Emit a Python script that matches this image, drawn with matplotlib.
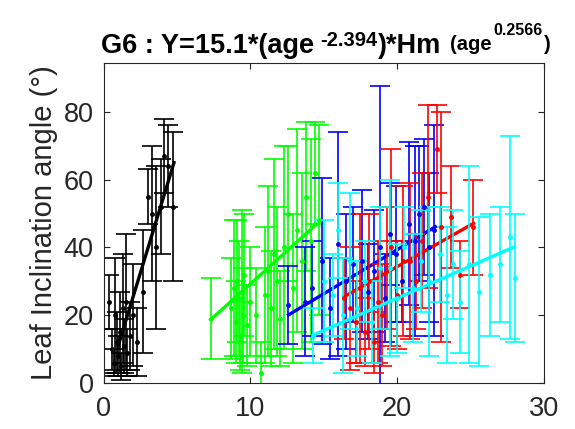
import matplotlib
matplotlib.use('Agg')
import matplotlib.pyplot as plt
import numpy as np

plt.rcParams['font.family'] = ['Liberation Sans', 'DejaVu Sans']

# black group (youngest)
black_x = [0.4, 0.6, 0.7, 0.8, 0.9, 1.0, 1.1, 1.2, 1.3, 1.4, 1.5, 1.6, 1.8, 2.0, 2.3, 2.7,
           3.0, 3.3, 3.6, 3.9, 4.1, 4.4, 4.7]
black_mean = [24, 10, 6, 20, 12, 8, 15, 5, 22, 11, 24, 9, 14, 20, 12, 27,
              55, 50, 40, 52, 67, 64, 52]
black_sd = [8, 6, 4, 17, 9, 6, 12, 4, 16, 8, 20, 7, 10, 15, 10, 18,
            8, 20, 24, 14, 11, 12, 22]
black_fit_x = [1.0, 4.8]
black_fit_y = [11, 65]

# green group
green_x = [7.3, 8.7, 8.9, 9.0, 9.1, 9.2, 9.3, 9.4, 9.5, 9.6, 9.8, 10.0, 10.4, 10.7, 11.0,
           11.2, 11.4, 11.6, 11.8, 12.0, 12.3, 12.6, 12.9, 13.2, 13.5, 13.8, 14.1, 14.4, 14.7]
green_mean = [19, 22, 28, 18, 30, 25, 14, 27, 20, 32, 17, 24, 20, 3, 26,
              33, 22, 38, 30, 19, 40, 50, 28, 45, 36, 55, 42, 62, 48]
green_sd = [12, 15, 20, 12, 18, 17, 10, 24, 14, 18, 12, 16, 14, 9, 20,
            25, 17, 28, 22, 14, 30, 20, 22, 30, 26, 22, 30, 15, 28]
green_fit_x = [7.3, 14.5]
green_fit_y = [18.7, 46.8]

# blue group
blue_x = [12.6, 13.7, 14.2, 14.9, 15.4, 16.0, 16.5, 17.0, 17.6, 18.0, 18.4, 18.8, 19.2,
          19.5, 19.9, 20.3, 20.8, 21.2, 21.5, 21.8, 22.2, 22.5]
blue_mean = [23, 24, 28, 36, 22, 41, 30, 35, 36, 27, 33, 40, 25,
             44, 38, 30, 47, 42, 50, 52, 40, 45]
blue_sd = [11.5, 16, 14, 24.5, 15, 33, 20, 17, 21, 14, 18, 47.5, 13,
           15, 20, 12, 24, 28, 20, 20, 22, 31]
blue_fit_x = [12.6, 22.6]
blue_fit_y = [20.1, 46.1]

# red group
red_x = [16.4, 16.8, 17.2, 17.5, 17.8, 18.1, 18.4, 18.7, 19.0, 19.3, 19.6, 20.0, 20.4,
         20.9, 21.3, 21.7, 22.1, 22.7, 23.0, 23.7, 24.3, 25.2]
red_mean = [25, 22, 18, 28, 15, 30, 12, 24, 20, 34, 40, 26, 36,
            36, 30, 42, 55, 69, 46, 49, 32, 46]
red_sd = [12, 18, 12, 22, 10, 20, 9, 18, 15, 18, 29, 16, 22,
          23, 14, 20, 27, 13, 34, 15, 10, 14]
red_fit_x = [16.4, 25.2]
red_fit_y = [25.5, 47.1]

# cyan group (oldest)
cyan_x = [14.3, 15.0, 15.6, 16.0, 16.3, 16.8, 17.3, 17.8, 18.3, 18.8, 19.5, 20.0, 20.5,
          21.1, 21.6, 22.2, 22.9, 23.4, 23.8, 24.3, 24.9, 25.6, 26.3, 27.0, 27.7, 28.0]
cyan_mean = [14, 30, 26, 45, 20, 36, 22, 30, 18, 34, 34, 25, 40,
             28, 36, 30, 38, 26, 35, 24, 35, 27, 32, 35, 43, 31]
cyan_sd = [8, 18, 12, 14, 17, 20, 14, 12, 12, 18, 26, 16, 12,
           16, 15, 22, 14, 20, 16, 15, 29, 22, 18, 17, 30, 19]
cyan_fit_x = [14.3, 28.0]
cyan_fit_y = [14.2, 40.2]

groups = [
    (black_x, black_mean, black_sd, black_fit_x, black_fit_y, 'black'),
    (green_x, green_mean, green_sd, green_fit_x, green_fit_y, '#00ff00'),
    (blue_x, blue_mean, blue_sd, blue_fit_x, blue_fit_y, '#0000ff'),
    (red_x, red_mean, red_sd, red_fit_x, red_fit_y, '#ff0000'),
    (cyan_x, cyan_mean, cyan_sd, cyan_fit_x, cyan_fit_y, '#00ffff'),
]

# title pieces: text, font size, raise above baseline (px), gap before (px)
title_parts = [
    ('G6 : Y=15.1*(age', 19.5, 0, 0),
    ('-2.394', 14.5, 7, 6),
    (')*Hm', 19.5, 0, 1),
    ('(age', 14.5, 3, 8),
    ('0.2566', 11.5, 18, 2),
    (')', 14.5, 3, 1),
]

fig = plt.figure(figsize=(5.75, 4.29), dpi=100)
ax = fig.add_axes([0.180, 0.107, 0.766, 0.747])

for x, m, s, fx, fy, c in groups:
    ax.errorbar(x, m, yerr=s, fmt='o', color=c, ms=2.5, elinewidth=1.2,
                capsize=7, capthick=1.2)
    ax.plot(fx, fy, color=c, lw=2.4)

ax.set_xlim(0, 30)
ax.set_ylim(0, 94.5)
ax.set_xticks([0, 10, 20, 30])
ax.set_yticks([0, 20, 40, 60, 80])
ax.tick_params(direction='in', length=4, width=0.8, top=True, right=True,
               labelsize=19.5, colors='#262626', pad=7)
ax.tick_params(axis='x', pad=9)
for sp in ax.spines.values():
    sp.set_color('#262626')
    sp.set_linewidth(0.8)

ax.set_ylabel('Leaf Inclination angle (°)', fontsize=21, color='#262626', labelpad=4)

# build the title from pieces so the exponents keep their size
W, H = 575, 429
base_y = 53
renderer = fig.canvas.get_renderer()
texts = []
cur = 0
for txt, size, dy, gap in title_parts:
    cur += gap
    t = fig.text(cur / W, 1 - (base_y - dy) / H, txt, fontsize=size,
                 fontweight='bold', va='baseline', ha='left', color='black')
    texts.append(t)
    cur += t.get_window_extent(renderer).width
shift = (ax.get_position().x0 + ax.get_position().x1) / 2 * W - cur / 2 + 2
for t in texts:
    px, py = t.get_position()
    t.set_position((px + shift / W, py))

fig.savefig('out.png', dpi=100)
